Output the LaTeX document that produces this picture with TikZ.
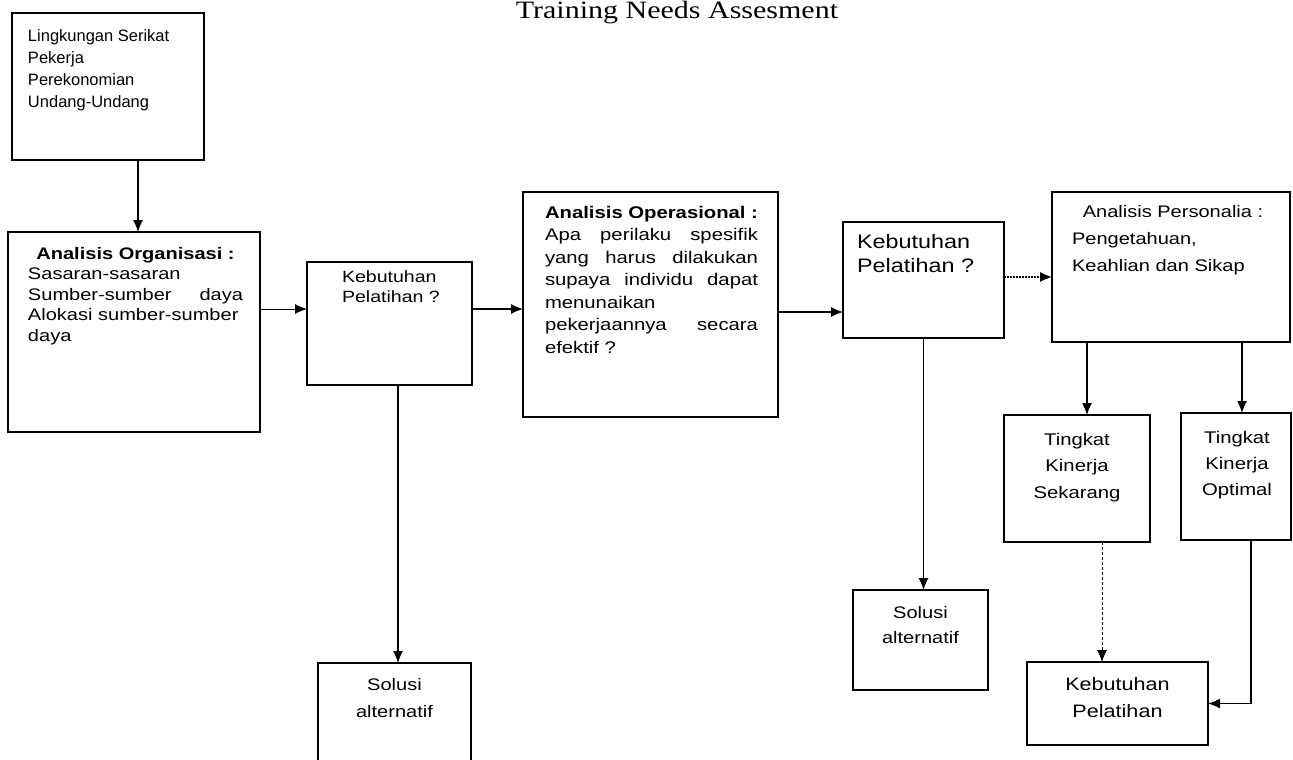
\documentclass[tikz,border=0pt]{standalone}
\usepackage{fontspec}
\setmainfont{Liberation Sans}
\newfontfamily\stretchsans[FakeStretch=1.2]{Liberation Sans}
\newfontfamily\titleserif[FakeStretch=1.2]{Liberation Serif}
\usetikzlibrary{arrows.meta}

% #1 box width, #2 box height, #3 gap above the text, #4 left inset,
% #5 text width, #6 font size, #7 line spacing, #8 text
\newcommand\boxbody[8]{%
  \parbox[t][#2][t]{#1}{\vspace*{#3}\hspace*{#4}%
    \parbox[t]{#5}{\fontsize{#6}{#7}\selectfont #8}}}

\begin{document}
\begin{tikzpicture}[x=1pt,y=-1pt,
  box/.style={draw=black, line width=1.3pt, anchor=north west,
    inner sep=0pt, outer sep=0pt},
  arr/.style={draw=black, line width=1.2pt,
    -{Latex[length=12pt,width=10pt]}},
  thinarr/.style={arr, line width=0.8pt, dash pattern=on 3pt off 2pt},
  dotarr/.style={arr, line width=1.2pt, dash pattern=on 1.5pt off 1.5pt}]

\useasboundingbox (0,0) rectangle (1293,760);
\clip (0,0) rectangle (1293,760);
\fill[white] (0,0) rectangle (1293,760);

% heading
\node[anchor=base, inner sep=0pt, font=\titleserif\fontsize{25}{25}\selectfont]
  (title) at (677,19) {Training Needs Assesment};

% external environment
\node[box] (env) at (12,13) {\boxbody{192pt}{147pt}{17pt}{16pt}{170pt}{16.5}{22}{%
  Lingkungan Serikat\\Pekerja\\Perekonomian\\Undang-Undang}};

% organisational analysis
\node[box] (org) at (8,232) {\boxbody{252pt}{200pt}{15pt}{20pt}{215pt}{16.7}{20.5}{\stretchsans
  \makebox[\linewidth]{\bfseries Analisis Organisasi :}\\
  Sasaran-sasaran\\
  Sumber-sumber\hfill daya\\
  Alokasi sumber-sumber\\
  daya}};

% first training-need decision
\node[box] (need1) at (307,262) {\boxbody{165pt}{123pt}{9pt}{35pt}{125pt}{16.3}{20}{\stretchsans
  Kebutuhan\\Pelatihan ?}};

% operational analysis
\node[box] (ops) at (523,192) {\boxbody{255pt}{225pt}{14pt}{22pt}{213pt}{16.9}{22.5}{\stretchsans
  \makebox[\linewidth]{\bfseries Analisis Operasional :}\\
  Apa\hfill perilaku\hfill spesifik\\
  yang\hfill harus\hfill dilakukan\\
  supaya\hfill individu\hfill dapat\\
  menunaikan\\
  pekerjaannya\hfill secara\\
  efektif ?}};

% second training-need decision
\node[box] (need2) at (843,222) {\boxbody{161pt}{116pt}{12pt}{14pt}{145pt}{19.5}{24}{\stretchsans
  Kebutuhan\\Pelatihan ?}};

% personnel analysis
\node[box] (pers) at (1052,192) {\boxbody{238pt}{150pt}{13pt}{20pt}{202pt}{16.7}{27}{\stretchsans
  \makebox[\linewidth]{Analisis Personalia :}\\
  Pengetahuan,\\
  Keahlian dan Sikap}};

% alternative solutions
\node[box] (alt1) at (318,663) {\boxbody{153pt}{130pt}{15pt}{0pt}{153pt}{16.7}{27}{\stretchsans\centering
  Solusi\\alternatif}};
\node[box] (alt2) at (853,590) {\boxbody{135pt}{100pt}{16pt}{0pt}{135pt}{16.7}{25}{\stretchsans\centering
  Solusi\\alternatif}};

% performance levels
\node[box] (now) at (1004,415) {\boxbody{146pt}{127pt}{18pt}{0pt}{146pt}{16.9}{26.5}{\stretchsans\centering
  Tingkat\\Kinerja\\Sekarang}};
\node[box] (opt) at (1181,413) {\boxbody{110pt}{127pt}{18pt}{0pt}{112pt}{16.9}{26}{\stretchsans\centering
  Tingkat\\Kinerja\\Optimal}};

% resulting training need
\node[box] (need3) at (1027,662) {\boxbody{181pt}{83pt}{15pt}{0pt}{181pt}{18}{27}{\stretchsans\centering
  Kebutuhan\\Pelatihan}};

% connectors
\draw[arr] ([xshift=30pt]env.south) -- ([xshift=30pt]env.south |- org.north);
\draw[arr, line width=0.9pt] ([yshift=23pt]org.east) -- ([yshift=23pt]org.east -| need1.west);
\draw[arr] ([yshift=14.5pt]need1.east) -- ([yshift=14.5pt]need1.east -| ops.west);
\draw[arr] ([yshift=-7.5pt]ops.east) -- ([yshift=-7.5pt]ops.east -| need2.west);
\draw[dotarr] ([yshift=3pt]need2.east) -- ([yshift=3pt]need2.east -| pers.west);
\draw[arr] ([xshift=8.5pt]need1.south) -- ([xshift=8.5pt]need1.south |- alt1.north);
\draw[arr] (need2.south) -- (need2.south |- alt2.north);
\draw[arr] ([xshift=-84pt]pers.south) -- ([xshift=-84pt]pers.south |- now.north);
\draw[arr] ([xshift=71pt]pers.south) -- ([xshift=71pt]pers.south |- opt.north);
\draw[thinarr] ([xshift=25pt]now.south) -- ([xshift=25pt]now.south |- need3.north);
\draw[arr] ([xshift=15pt]opt.south) |- (need3.east);

\end{tikzpicture}
\end{document}
